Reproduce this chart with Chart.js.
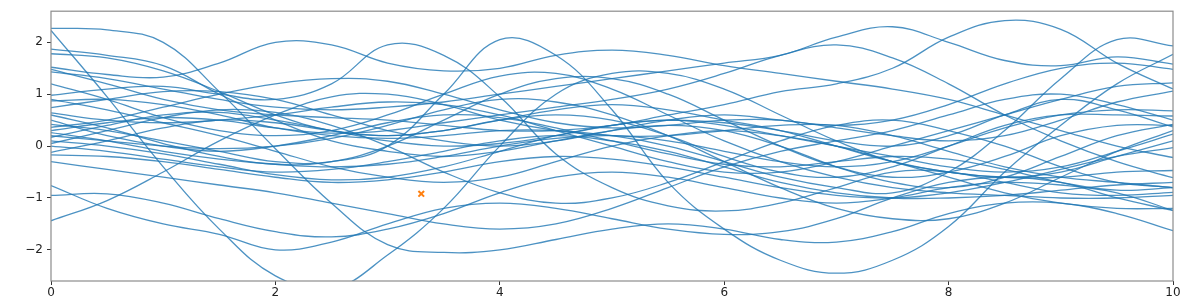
<!DOCTYPE html>
<html>
<head>
<meta charset="utf-8">
<script src="https://cdn.jsdelivr.net/npm/chart.js@4"></script>
<style>
  html, body { margin: 0; padding: 0; background: #fff; }
  #wrap { width: 1200px; height: 300px; }
</style>
</head>
<body>
<div id="wrap"><canvas id="gp"></canvas></div>
<script>
// sample grid (x values)
const xs = [0, 0.5, 1, 1.5, 2, 2.5, 3, 3.5, 4, 4.5, 5, 5.5, 6, 6.5, 7, 7.5, 8, 8.5, 9, 9.5, 10];

// prior samples
const s01 = [2.27, 2.24, 2.0, 1.05, -0.05, -1.1, -1.9, -2.05, -2.0, -1.8, -1.6, -1.5, -1.6, -1.8, -1.85, -1.65, -1.3, -1.1, -1.1, -1.3, -1.63];
const s02 = [2.23, 0.95, -0.4, -1.6, -2.5, -2.75, -2.1, -1.2, 0.0, 1.0, 1.4, 1.4, 1.1, 0.6, 0.1, -0.3, -0.5, -0.6, -0.6, -0.5, -0.47];
const s03 = [1.87, 1.75, 1.55, 1.0, 0.5, 0.1, -0.1, -0.2, -0.1, 0.1, 0.3, 0.4, 0.3, 0.0, -0.4, -0.7, -0.8, -0.6, -0.2, 0.2, 0.42];
const s04 = [1.78, 1.7, 1.45, 1.05, 0.6, 0.3, 0.2, 0.3, 0.5, 0.6, 0.5, 0.2, -0.2, -0.5, -0.6, -0.4, 0.0, 0.4, 0.6, 0.6, 0.58];
const s05 = [1.52, 1.38, 1.33, 1.6, 2.0, 1.95, 1.6, 1.45, 1.5, 1.75, 1.85, 1.75, 1.55, 1.4, 1.25, 1.1, 0.9, 0.6, 0.3, 0.0, -0.22];
const s06 = [0.98, 1.1, 1.15, 1.0, 0.9, 1.2, 1.95, 1.75, 0.95, -0.15, -0.8, -1.15, -1.25, -1.1, -0.8, -0.5, -0.5, -0.7, -0.9, -0.95, -0.89];
const s07 = [0.42, 0.3, 0.1, -0.1, -0.3, -0.3, 0.0, 1.0, 2.05, 1.75, 0.7, -0.7, -1.6, -2.2, -2.45, -2.2, -1.55, -0.5, 0.4, 1.2, 1.77];
const s08 = [-0.95, -0.92, -1.1, -1.4, -1.65, -1.75, -1.6, -1.3, -0.9, -0.6, -0.5, -0.6, -0.8, -1.0, -1.1, -1.0, -0.8, -0.7, -0.75, -0.9, -1.24];
const s09 = [-1.44, -1.05, -0.5, 0.1, 0.6, 0.95, 1.0, 0.8, 0.5, 0.3, 0.2, 0.2, 0.3, 0.4, 0.4, 0.2, -0.1, -0.4, -0.6, -0.7, -0.8];
const s10 = [-0.76, -1.2, -1.5, -1.7, -2.0, -1.85, -1.5, -1.2, -1.1, -1.2, -1.4, -1.6, -1.7, -1.65, -1.4, -1.0, -0.7, -0.6, -0.7, -1.0, -1.24];
const s11 = [1.48, 1.2, 0.9, 0.7, 0.6, 0.55, 0.5, 0.4, 0.3, 0.3, 0.4, 0.6, 0.8, 1.05, 1.2, 1.5, 2.1, 2.42, 2.25, 1.6, 1.1];
const s12 = [1.43, 1.3, 1.1, 0.9, 0.75, 0.7, 0.75, 0.85, 1.0, 1.15, 1.3, 1.45, 1.6, 1.75, 2.1, 2.3, 2.0, 1.65, 1.55, 1.72, 1.58];
const s13 = [0.87, 0.9, 0.8, 0.6, 0.35, 0.2, 0.15, 0.2, 0.3, 0.3, 0.2, 0.0, -0.3, -0.6, -0.8, -0.9, -0.5, 0.3, 1.3, 2.05, 1.93];
const s14 = [0.74, 0.9, 1.05, 1.05, 0.9, 0.6, 0.3, 0.1, 0.0, 0.1, 0.3, 0.5, 0.6, 0.5, 0.4, 0.5, 0.8, 1.2, 1.5, 1.6, 1.48];
const s15 = [0.64, 0.5, 0.45, 0.5, 0.6, 0.75, 0.85, 0.8, 0.6, 0.3, 0.0, -0.3, -0.5, -0.5, -0.3, 0.0, 0.3, 0.6, 0.9, 1.15, 1.22];
const s16 = [0.36, 0.5, 0.75, 1.0, 1.2, 1.3, 1.25, 1.0, 0.7, 0.45, 0.35, 0.4, 0.5, 0.5, 0.35, 0.2, 0.1, 0.2, 0.5, 0.85, 1.06];
const s17 = [0.26, 0.1, -0.1, -0.25, -0.35, -0.4, -0.35, -0.2, 0.0, 0.15, 0.2, 0.1, -0.1, -0.3, -0.4, -0.3, 0.0, 0.35, 0.6, 0.7, 0.68];
const s18 = [0.17, 0.4, 0.6, 0.65, 0.5, 0.3, 0.1, 0.0, 0.05, 0.2, 0.4, 0.5, 0.45, 0.3, 0.1, 0.0, 0.2, 0.6, 0.9, 0.7, 0.37];
const s19 = [0.10, 0.0, -0.15, -0.35, -0.55, -0.65, -0.6, -0.4, -0.1, 0.2, 0.4, 0.5, 0.4, 0.2, 0.0, -0.2, -0.4, -0.5, -0.4, -0.1, 0.23];
const s20 = [-0.12, 0.1, 0.35, 0.5, 0.45, 0.3, 0.2, 0.3, 0.5, 0.7, 0.8, 0.7, 0.5, 0.3, 0.0, -0.3, -0.5, -0.6, -0.5, -0.2, 0.10];
const s21 = [-0.17, -0.2, -0.3, -0.45, -0.6, -0.7, -0.65, -0.5, -0.3, -0.2, -0.25, -0.4, -0.6, -0.8, -0.95, -1.0, -0.9, -0.7, -0.45, -0.2, -0.03];
const s22 = [0.0, -0.1, -0.25, -0.4, -0.5, -0.45, -0.3, -0.1, 0.1, 0.2, 0.1, -0.1, -0.4, -0.7, -0.9, -1.0, -1.0, -0.95, -0.85, -0.75, -0.7];
const s23 = [0.3, 0.45, 0.55, 0.5, 0.35, 0.25, 0.3, 0.45, 0.6, 0.75, 0.9, 1.1, 1.4, 1.75, 1.95, 1.7, 1.2, 0.6, 0.1, -0.3, -0.61];
const s24 = [0.5, 0.2, 0.0, -0.1, 0.0, 0.2, 0.45, 0.6, 0.55, 0.35, 0.1, -0.15, -0.35, -0.4, -0.3, -0.2, -0.25, -0.45, -0.7, -0.85, -0.8];
const s25 = [0.05, 0.3, 0.55, 0.7, 0.65, 0.4, 0.0, -0.5, -0.9, -1.1, -1.0, -0.7, -0.3, 0.1, 0.4, 0.5, 0.3, 0.0, -0.4, -0.7, -0.8];
const s26 = [0.6, 0.35, 0.05, -0.2, -0.35, -0.3, 0.0, 0.5, 1.0, 1.3, 1.3, 1.0, 0.5, 0.0, -0.4, -0.6, -0.5, -0.2, 0.2, 0.4, 0.4];
const s27 = [1.2, 0.9, 0.55, 0.3, 0.2, 0.3, 0.6, 1.0, 1.35, 1.4, 1.1, 0.6, 0.1, -0.3, -0.6, -0.8, -0.9, -0.95, -1.0, -1.0, -0.95];
const s28 = [-0.3, -0.45, -0.6, -0.75, -0.9, -1.1, -1.3, -1.5, -1.6, -1.5, -1.2, -0.8, -0.4, -0.1, 0.1, 0.3, 0.6, 0.9, 1.0, 0.8, 0.5];
const s29 = [0.9, 0.7, 0.45, 0.2, -0.1, -0.4, -0.6, -0.7, -0.6, -0.3, 0.0, 0.2, 0.3, 0.2, 0.0, -0.3, -0.6, -0.9, -1.1, -1.2, -1.2];
const s30 = [0.2, 0.1, 0.0, -0.05, 0.0, 0.15, 0.4, 0.7, 0.9, 0.85, 0.6, 0.2, -0.3, -0.8, -1.2, -1.4, -1.4, -1.1, -0.6, -0.1, 0.3];

const samples = [s01, s02, s03, s04, s05, s06, s07, s08, s09, s10,
                 s11, s12, s13, s14, s15, s16, s17, s18, s19, s20,
                 s21, s22, s23, s24, s25, s26, s27, s28, s29, s30];

// the single observation (orange x)
const obsX = [3.3];
const obsY = [-0.92];

const xTicks = [0, 2, 4, 6, 8, 10];
const yTicks = [-2, -1, 0, 1, 2];

const lineColor = 'rgba(31, 119, 180, 0.8)';
const axisColor = '#333';
const frameColor = '#8c8c8c';

const datasets = samples.map(function (ys) {
    return {
        type: 'line',
        data: xs.map(function (x, i) { return { x: x, y: ys[i] }; }),
        borderColor: lineColor,
        borderWidth: 1.3,
        pointRadius: 0,
        tension: 0.4,
        fill: false
    };
});

datasets.push({
    type: 'scatter',
    data: obsX.map(function (x, i) { return { x: x, y: obsY[i] }; }),
    pointStyle: 'crossRot',
    pointRadius: 4,
    borderColor: '#ff7f0e',
    borderWidth: 2
});

// box around the plot area, like matplotlib's spines
const framePlugin = {
    id: 'frame',
    afterDatasetsDraw(chart) {
        const a = chart.chartArea;
        const c = chart.ctx;
        c.save();
        c.strokeStyle = frameColor;
        c.lineWidth = 1.2;
        c.strokeRect(a.left, a.top, a.right - a.left, a.bottom - a.top);
        c.restore();
    }
};

function minusFmt(v) {
    return v < 0 ? '\u2212' + Math.abs(v) : String(v);
}

new Chart(document.getElementById('gp'), {
    type: 'line',
    data: { datasets: datasets },
    options: {
        responsive: true,
        maintainAspectRatio: false,
        animation: false,
        layout: { padding: { top: 10, right: 27, left: 0, bottom: 0 } },
        plugins: {
            legend: { display: false },
            tooltip: { enabled: false }
        },
        scales: {
            x: {
                type: 'linear',
                min: 0,
                max: 10,
                afterBuildTicks: function (scale) {
                    scale.ticks = xTicks.map(function (v) { return { value: v }; });
                },
                afterFit: function (scale) { scale.height = 19; },
                grid: { drawOnChartArea: false, drawTicks: true, tickLength: 4, color: axisColor },
                border: { display: false },
                ticks: {
                    color: '#222',
                    padding: 1,
                    maxRotation: 0,
                    font: { family: 'DejaVu Sans', size: 12 },
                    callback: minusFmt
                }
            },
            y: {
                type: 'linear',
                min: -2.6,
                max: 2.6,
                afterBuildTicks: function (scale) {
                    scale.ticks = yTicks.map(function (v) { return { value: v }; });
                },
                afterFit: function (scale) { scale.width = 51; },
                grid: { drawOnChartArea: false, drawTicks: true, tickLength: 4, color: axisColor },
                border: { display: false },
                ticks: {
                    color: '#222',
                    padding: 4,
                    font: { family: 'DejaVu Sans', size: 12 },
                    callback: minusFmt
                }
            }
        }
    },
    plugins: [framePlugin]
});
</script>
</body>
</html>
